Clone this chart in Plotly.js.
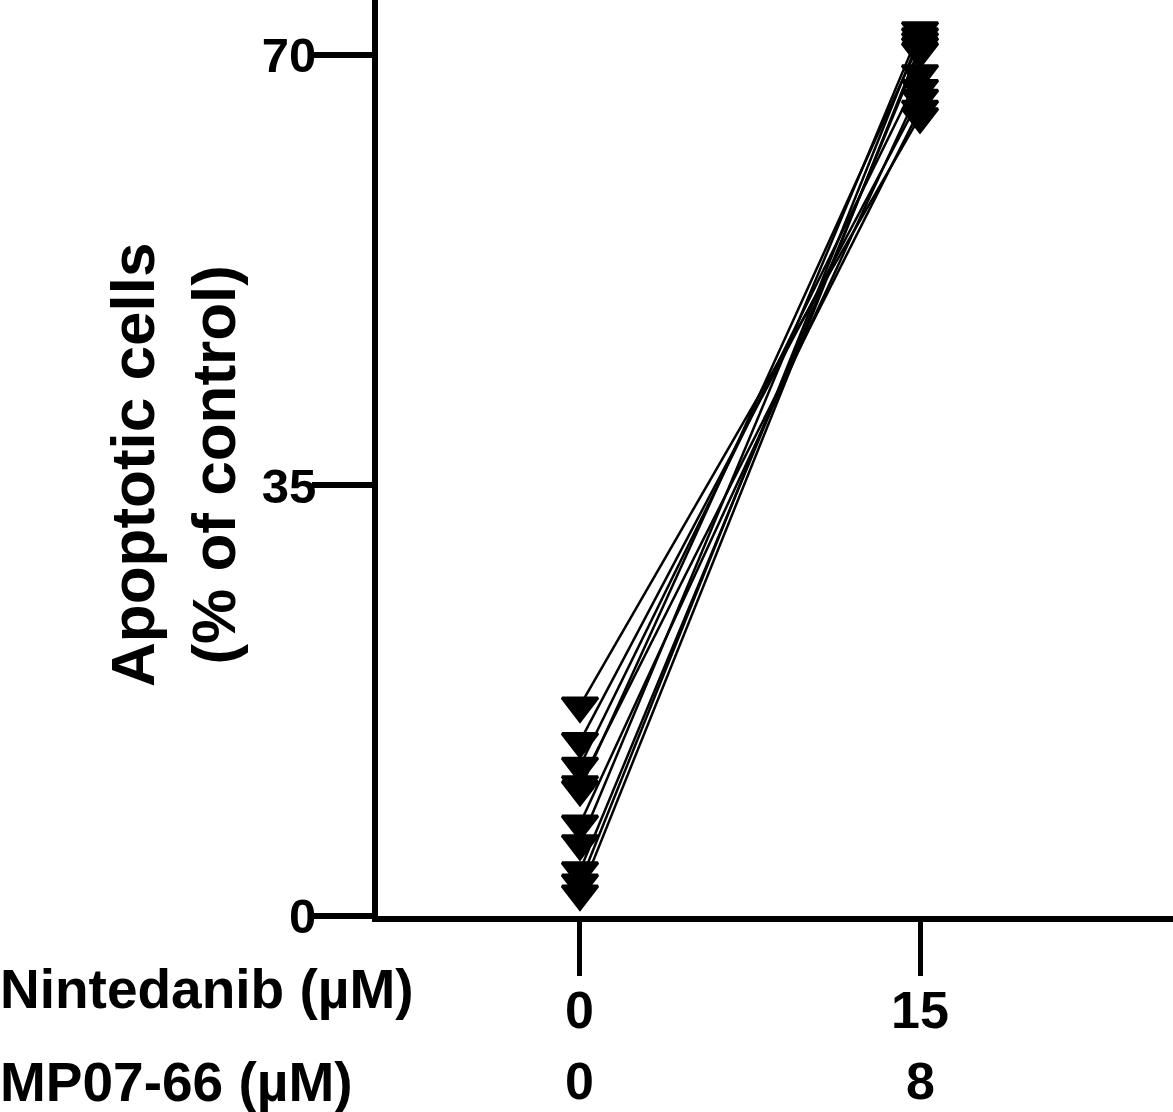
<!DOCTYPE html>
<html>
<head>
<meta charset="utf-8">
<script src="https://cdn.plot.ly/plotly-3.0.1.min.js"></script>
<style>html,body{margin:0;padding:0;background:#fff;}#chart{width:1173px;height:1112px;}</style>
</head>
<body>
<div id="chart"></div>
<script>
// Data
var groupPositions = [0, 1];
var nintedanibLabels = ["0", "15"];
var mp0766Labels = ["0", "8"];
var baselineValues = [17.1, 14.2, 12.2, 10.7, 10.3, 7.5, 5.9, 3.7, 2.7, 1.8];
var treatedValues  = [65.0, 66.5, 68.5, 65.6, 71.1, 67.3, 72.0, 70.3, 71.5, 70.7];
var yTickValues = [0, 35, 70];
var yTickLabels = ["0", "35", "70"];
var yTitle = "Apoptotic cells<br>(% of control)";
var rowLabel1 = "Nintedanib (µM)";
var rowLabel2 = "MP07-66 (µM)";

var FONT = "Liberation Sans, Arial, sans-serif";

var traces = baselineValues.map(function (b, i) {
  return {
    type: "scatter",
    mode: "lines+markers",
    x: groupPositions,
    y: [b, treatedValues[i]],
    line: {color: "#000", width: 2.5},
    marker: {symbol: "triangle-down", size: 31, color: "#000", line: {color: "#000", width: 3}},
    cliponaxis: false,
    hoverinfo: "skip"
  };
});

var annotations = [];
groupPositions.forEach(function (xv, i) {
  annotations.push({xref: "x", yref: "paper", x: xv, y: 0, yanchor: "middle", xanchor: "center",
    yshift: -94, text: "<b>" + nintedanibLabels[i] + "</b>", showarrow: false,
    font: {family: FONT, size: 52, color: "#000"}});
  annotations.push({xref: "x", yref: "paper", x: xv, y: 0, yanchor: "middle", xanchor: "center",
    yshift: -165, text: "<b>" + mp0766Labels[i] + "</b>", showarrow: false,
    font: {family: FONT, size: 52, color: "#000"}});
});
annotations.push({xref: "paper", yref: "paper", x: 0, y: 0, xanchor: "left", yanchor: "middle",
  xshift: -380, yshift: -73, text: "<b>" + rowLabel1 + "</b>", showarrow: false,
  font: {family: FONT, size: 55, color: "#000"}});
annotations.push({xref: "paper", yref: "paper", x: 0, y: 0, xanchor: "left", yanchor: "middle",
  xshift: -380, yshift: -166, text: "<b>" + rowLabel2 + "</b>", showarrow: false,
  font: {family: FONT, size: 55, color: "#000"}});
annotations.push({xref: "paper", yref: "paper", x: 0, y: 0.5, xanchor: "center", yanchor: "middle",
  xshift: -205, yshift: -7, textangle: -90, text: "<b>" + yTitle + "</b>", showarrow: false,
  font: {family: FONT, size: 62, color: "#000"}});

var layout = {
  width: 1173,
  height: 1112,
  margin: {l: 378, r: 0, t: 0, b: 196, pad: 0},
  paper_bgcolor: "#fff",
  plot_bgcolor: "#fff",
  showlegend: false,
  font: {family: FONT, color: "#000"},
  xaxis: {
    range: [-0.594, 1.744],
    showgrid: false, zeroline: false,
    showline: true, linecolor: "#000", linewidth: 6,
    ticks: "outside", ticklen: 54, tickwidth: 5, tickcolor: "#000",
    tickvals: groupPositions, showticklabels: false
  },
  yaxis: {
    range: [0, 74.47],
    showgrid: false, zeroline: false,
    showline: true, linecolor: "#000", linewidth: 6,
    ticks: "outside", ticklen: 60, tickwidth: 6, tickcolor: "#000",
    tickvals: yTickValues, ticktext: yTickLabels.map(function (t) { return "<b>" + t + "</b>"; }),
    tickfont: {family: FONT, size: 49, color: "#000"},
    ticklabelstandoff: -14
  },
  annotations: annotations
};

Plotly.newPlot("chart", traces, layout, {staticPlot: true, displayModeBar: false});
</script>
</body>
</html>
